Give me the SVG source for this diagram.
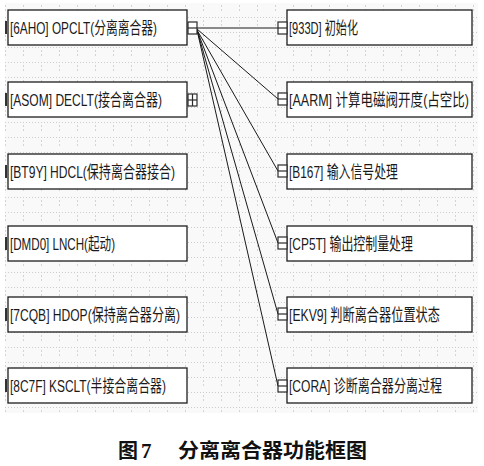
<svg xmlns="http://www.w3.org/2000/svg" width="484" height="466" viewBox="0 0 484 466">
<defs>
<style>
.box{fill:#ffffff;stroke:#1e1e1e;stroke-width:1.3}
.lbl{font-family:"Liberation Sans","Noto Sans CJK SC",sans-serif;font-size:17px;fill:#1a1a1a}
.ico{fill:#ffffff;stroke:#2a2a2a;stroke-width:1.2}
.icl{stroke:#2a2a2a;stroke-width:1.2}
.mk{fill:#333333}
.con{stroke:#1a1a1a;stroke-width:1;fill:none}
.cap{font-family:"Noto Sans CJK SC",sans-serif;font-size:20px;font-weight:bold;fill:#111111}
</style>
<pattern id="grid" x="5" y="2" width="18" height="15" patternUnits="userSpaceOnUse">
<path d="M0 0.5H18" stroke="#cccccc" stroke-width="1" stroke-dasharray="1 2"/>
<path d="M0.5 3V9" stroke="#d4d4d4" stroke-width="1" stroke-dasharray="2 2"/>
</pattern>
</defs>
<rect x="5" y="3" width="473" height="410" fill="#f9f9f9"/>
<rect x="5" y="3" width="473" height="410" fill="url(#grid)"/>

<g id="connectors">
<line class="con" x1="197" y1="28" x2="278" y2="28"/>
<line class="con" x1="197" y1="29" x2="278" y2="99"/>
<line class="con" x1="197" y1="30" x2="278" y2="171"/>
<line class="con" x1="197" y1="30" x2="278" y2="243"/>
<line class="con" x1="197" y1="30" x2="278" y2="314"/>
<line class="con" x1="197" y1="30" x2="278" y2="386"/>
</g>

<g id="n-6AHO">
<rect class="mk" x="5" y="21" width="2" height="13"/>
<rect class="box" x="8" y="10" width="179" height="35"/>
<text class="lbl" transform="translate(10,34) scale(0.75,1)" x="0" y="0" textLength="196" lengthAdjust="spacingAndGlyphs">[6AHO] OPCLT(分离离合器)</text>
<rect class="ico" x="188" y="22" width="9" height="12"/>
<line class="icl" x1="188" y1="28" x2="197" y2="28"/>
</g>
<g id="n-ASOM">
<rect class="mk" x="5" y="93" width="2" height="13"/>
<rect class="box" x="8" y="82" width="179" height="35"/>
<text class="lbl" transform="translate(10,106) scale(0.75,1)" x="0" y="0" textLength="202.7" lengthAdjust="spacingAndGlyphs">[ASOM] DECLT(接合离合器)</text>
<rect class="ico" x="188" y="94" width="9" height="12"/>
<line class="icl" x1="188" y1="100" x2="197" y2="100"/>
<line class="icl" x1="192.5" y1="94" x2="192.5" y2="106"/>
</g>
<g id="n-BT9Y">
<rect class="mk" x="5" y="165" width="2" height="13"/>
<rect class="box" x="8" y="154" width="179" height="35"/>
<text class="lbl" transform="translate(10,178) scale(0.75,1)" x="0" y="0" textLength="220" lengthAdjust="spacingAndGlyphs">[BT9Y] HDCL(保持离合器接合)</text>
</g>
<g id="n-DMD0">
<rect class="mk" x="5" y="237" width="2" height="13"/>
<rect class="box" x="8" y="226" width="179" height="35"/>
<text class="lbl" transform="translate(10,250) scale(0.75,1)" x="0" y="0" textLength="140" lengthAdjust="spacingAndGlyphs">[DMD0] LNCH(起动)</text>
</g>
<g id="n-7CQB">
<rect class="mk" x="5" y="308" width="2" height="13"/>
<rect class="box" x="8" y="297" width="179" height="35"/>
<text class="lbl" transform="translate(10,321) scale(0.75,1)" x="0" y="0" textLength="226.7" lengthAdjust="spacingAndGlyphs">[7CQB] HDOP(保持离合器分离)</text>
</g>
<g id="n-8C7F">
<rect class="mk" x="5" y="379" width="2" height="13"/>
<rect class="box" x="8" y="368" width="179" height="35"/>
<text class="lbl" transform="translate(10,392) scale(0.75,1)" x="0" y="0" textLength="208" lengthAdjust="spacingAndGlyphs">[8C7F] KSCLT(半接合离合器)</text>
</g>

<g id="n-933D">
<rect class="box" x="287" y="10" width="185" height="35"/>
<rect class="ico" x="278" y="22" width="9" height="12"/>
<line class="icl" x1="278" y1="28" x2="287" y2="28"/>
<text class="lbl" transform="translate(289,34) scale(0.75,1)" x="0" y="0" textLength="92" lengthAdjust="spacingAndGlyphs">[933D] 初始化</text>
</g>
<g id="n-AARM">
<rect class="box" x="287" y="82" width="185" height="35"/>
<rect class="ico" x="278" y="93" width="9" height="12"/>
<line class="icl" x1="278" y1="99" x2="287" y2="99"/>
<text class="lbl" transform="translate(289,106) scale(0.75,1)" x="0" y="0" textLength="240" lengthAdjust="spacingAndGlyphs">[AARM] 计算电磁阀开度(占空比)</text>
</g>
<g id="n-B167">
<rect class="box" x="287" y="154" width="185" height="35"/>
<rect class="ico" x="278" y="165" width="9" height="12"/>
<line class="icl" x1="278" y1="171" x2="287" y2="171"/>
<text class="lbl" transform="translate(289,178) scale(0.75,1)" x="0" y="0" textLength="145.3" lengthAdjust="spacingAndGlyphs">[B167] 输入信号处理</text>
</g>
<g id="n-CP5T">
<rect class="box" x="287" y="226" width="185" height="35"/>
<rect class="ico" x="278" y="237" width="9" height="12"/>
<line class="icl" x1="278" y1="243" x2="287" y2="243"/>
<text class="lbl" transform="translate(289,250) scale(0.75,1)" x="0" y="0" textLength="165.3" lengthAdjust="spacingAndGlyphs">[CP5T] 输出控制量处理</text>
</g>
<g id="n-EKV9">
<rect class="box" x="287" y="297" width="185" height="35"/>
<rect class="ico" x="278" y="308" width="9" height="12"/>
<line class="icl" x1="278" y1="314" x2="287" y2="314"/>
<text class="lbl" transform="translate(289,321) scale(0.75,1)" x="0" y="0" textLength="201.3" lengthAdjust="spacingAndGlyphs">[EKV9] 判断离合器位置状态</text>
</g>
<g id="n-CORA">
<rect class="box" x="287" y="368" width="185" height="35"/>
<rect class="ico" x="278" y="380" width="9" height="12"/>
<line class="icl" x1="278" y1="386" x2="287" y2="386"/>
<text class="lbl" transform="translate(289,392) scale(0.75,1)" x="0" y="0" textLength="204" lengthAdjust="spacingAndGlyphs">[CORA] 诊断离合器分离过程</text>
</g>

<g id="caption">
<text class="cap" x="118" y="458">图</text>
<text x="141" y="458" style="font-family:'Liberation Serif',serif;font-size:21px;font-weight:bold;fill:#111">7</text>
<text class="cap" x="178" y="458" textLength="189" lengthAdjust="spacingAndGlyphs">分离离合器功能框图</text>
</g>
</svg>
